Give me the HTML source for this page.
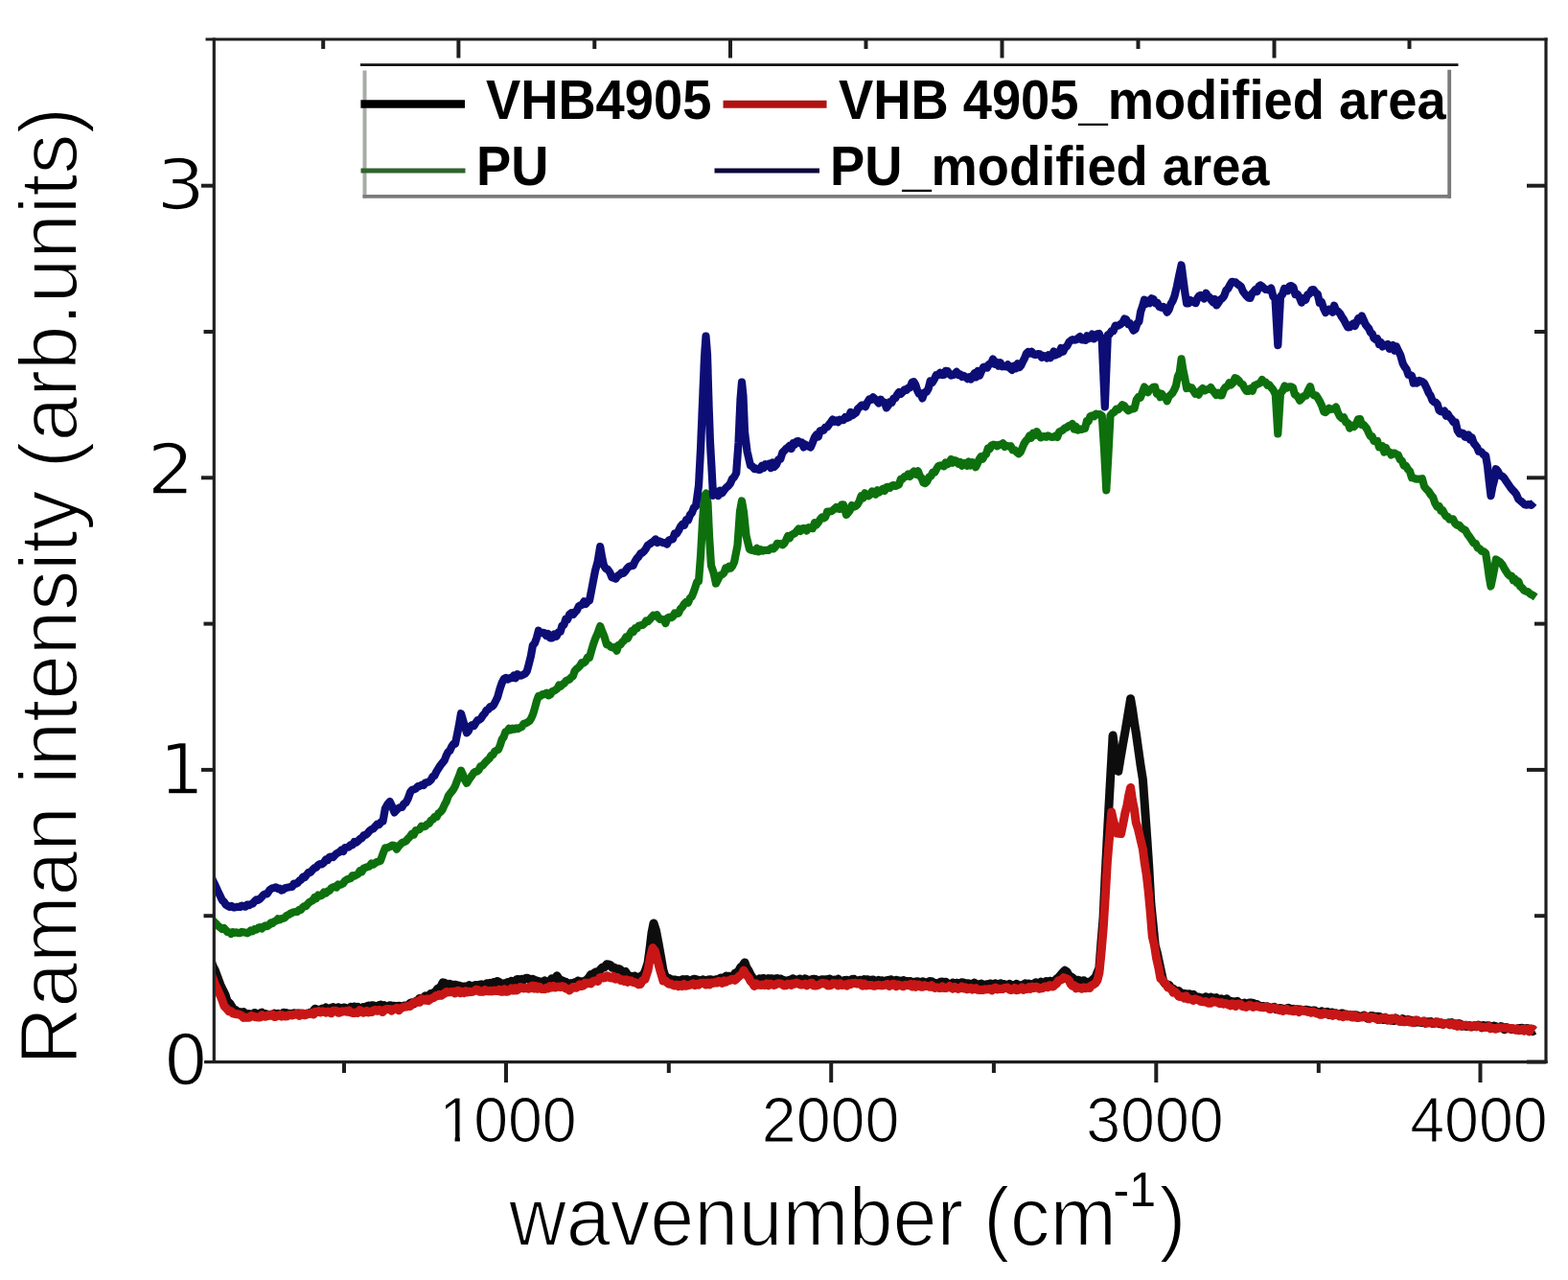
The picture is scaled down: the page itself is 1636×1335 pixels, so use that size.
<!DOCTYPE html>
<html><head><meta charset="utf-8"><style>
html,body{margin:0;padding:0;background:#fff;}
svg{display:block;filter:blur(0.45px);}
text{font-family:"Liberation Sans",sans-serif;fill:#000;}
.dv{font-family:"DejaVu Sans","Liberation Sans",sans-serif;}
.thin{stroke:#fff;stroke-width:1.8px;stroke-linejoin:round;}
.thin2{stroke:#fff;stroke-width:1.6px;stroke-linejoin:round;}
.thin3{stroke:#fff;stroke-width:1.2px;stroke-linejoin:round;}
</style></head><body>
<svg width="1636" height="1335" viewBox="0 0 1636 1335">
<rect width="1636" height="1335" fill="#fff"/>
<defs><clipPath id="pc"><rect x="224.6" y="42" width="1387" height="1064"/></clipPath><filter id="bl" x="-0.05" y="-0.05" width="1.1" height="1.1"><feGaussianBlur stdDeviation="0.7"/></filter></defs>
<g clip-path="url(#pc)"><g id="curves" filter="url(#bl)">
<path d="M220.0 1001.7 L222.2 1007.9 L224.5 1012.6 L227.0 1019.3 L230.0 1027.4 L233.0 1033.7 L235.0 1037.5 L237.0 1044.0 L239.5 1046.3 L242.0 1050.2 L244.0 1053.8 L246.0 1053.6 L248.0 1056.0 L250.0 1055.4 L252.0 1056.4 L254.0 1055.5 L256.0 1057.4 L258.0 1058.3 L260.0 1057.5 L262.0 1058.4 L263.9 1058.2 L265.7 1056.4 L267.6 1058.4 L269.5 1057.9 L271.3 1057.0 L273.2 1056.2 L275.1 1058.7 L276.9 1057.5 L278.8 1058.2 L280.7 1058.7 L282.5 1058.2 L284.4 1058.8 L286.3 1057.2 L288.1 1058.4 L290.0 1057.3 L291.9 1058.8 L293.7 1058.6 L295.6 1056.3 L297.5 1056.4 L299.3 1056.6 L301.2 1058.8 L303.1 1057.2 L304.9 1057.8 L306.8 1056.8 L308.7 1057.4 L310.5 1057.0 L312.4 1056.9 L314.3 1057.6 L316.1 1057.6 L318.0 1058.5 L319.8 1057.2 L321.6 1057.2 L323.4 1056.3 L325.2 1056.1 L327.1 1054.4 L328.9 1052.2 L330.7 1053.7 L332.5 1053.3 L334.4 1053.1 L336.2 1052.1 L338.1 1052.5 L340.0 1051.0 L341.9 1052.9 L343.7 1052.1 L345.6 1051.3 L347.5 1050.6 L349.4 1053.0 L351.2 1053.4 L353.1 1050.7 L355.0 1052.8 L356.9 1051.6 L358.7 1050.9 L360.6 1051.3 L362.4 1052.6 L364.3 1052.8 L366.1 1050.2 L367.9 1051.8 L369.8 1049.9 L371.6 1051.8 L373.4 1050.5 L375.3 1052.1 L377.1 1052.2 L378.9 1050.7 L380.8 1052.1 L382.6 1049.9 L384.5 1049.0 L386.3 1050.5 L388.1 1048.7 L390.0 1049.0 L391.8 1049.6 L393.6 1050.0 L395.5 1048.6 L397.3 1048.1 L399.1 1050.4 L401.0 1048.7 L402.8 1050.5 L404.7 1050.3 L406.6 1048.7 L408.5 1049.0 L410.4 1049.2 L412.3 1049.5 L414.3 1049.4 L416.2 1049.3 L418.1 1049.5 L420.0 1050.4 L421.9 1049.1 L423.8 1048.9 L425.8 1048.8 L427.9 1046.5 L429.9 1045.7 L431.9 1046.8 L433.9 1044.5 L435.9 1043.7 L438.0 1041.2 L440.0 1041.4 L441.8 1041.2 L443.7 1038.8 L445.5 1039.8 L447.3 1039.2 L449.2 1036.7 L451.0 1037.7 L452.8 1035.4 L454.7 1034.2 L456.5 1031.4 L458.3 1030.6 L460.2 1028.8 L462.0 1024.9 L463.8 1025.2 L465.7 1027.2 L467.5 1028.2 L469.3 1026.3 L471.2 1027.1 L473.0 1027.7 L474.8 1027.2 L476.7 1027.7 L478.5 1027.9 L480.3 1028.5 L482.2 1029.5 L484.0 1029.0 L485.8 1029.0 L487.7 1030.1 L489.5 1027.6 L491.3 1029.1 L493.2 1029.4 L495.0 1027.9 L496.8 1027.5 L498.7 1029.0 L500.5 1027.2 L502.3 1026.8 L504.2 1027.4 L506.0 1028.0 L507.8 1025.7 L509.7 1025.8 L511.5 1025.3 L513.3 1026.2 L515.2 1024.5 L517.0 1025.2 L518.8 1023.5 L520.7 1024.3 L522.5 1025.7 L524.3 1026.7 L526.2 1025.8 L528.0 1025.5 L529.8 1024.6 L531.7 1025.2 L533.5 1023.5 L535.3 1024.8 L537.2 1024.3 L539.0 1021.7 L540.8 1021.4 L542.7 1022.3 L544.5 1021.2 L546.3 1021.9 L548.2 1020.7 L550.0 1020.2 L551.8 1020.9 L553.7 1022.6 L555.5 1021.2 L557.3 1022.0 L559.2 1022.8 L561.0 1023.3 L562.8 1023.8 L564.7 1025.9 L566.5 1024.2 L568.3 1022.9 L570.1 1024.9 L571.9 1023.9 L573.8 1023.4 L575.6 1020.9 L577.4 1021.6 L579.2 1020.7 L581.0 1017.8 L582.9 1020.6 L584.7 1022.1 L586.6 1022.9 L588.4 1023.7 L590.3 1024.3 L592.1 1025.7 L594.0 1026.6 L595.8 1025.5 L597.7 1026.4 L599.5 1024.9 L601.3 1025.9 L603.2 1023.0 L605.0 1024.9 L606.8 1023.7 L608.7 1023.8 L610.5 1023.1 L612.5 1021.8 L614.5 1019.6 L616.5 1016.6 L618.4 1017.6 L620.4 1014.6 L622.4 1013.7 L624.4 1013.5 L626.5 1011.2 L628.7 1009.0 L630.9 1008.7 L633.0 1005.8 L635.0 1005.9 L636.9 1006.6 L638.9 1009.3 L640.8 1009.0 L642.8 1010.8 L644.8 1010.5 L646.7 1010.9 L648.7 1012.8 L650.6 1014.6 L652.6 1013.5 L654.5 1016.4 L656.4 1017.8 L658.3 1018.4 L660.3 1019.5 L662.2 1018.0 L664.1 1020.9 L666.0 1022.6 L668.0 1018.5 L670.0 1017.5 L672.0 1015.8 L674.0 1010.6 L676.0 1004.3 L678.0 989.9 L680.0 972.8 L682.0 963.0 L684.5 970.7 L687.0 983.9 L689.5 997.9 L692.0 1012.2 L694.0 1018.4 L696.0 1021.6 L698.0 1020.3 L700.0 1022.5 L701.8 1021.9 L703.7 1021.9 L705.5 1022.1 L707.3 1022.9 L709.2 1022.8 L711.0 1022.1 L712.8 1021.6 L714.7 1022.0 L716.5 1021.4 L718.3 1022.7 L720.2 1023.1 L722.0 1022.1 L723.9 1021.2 L725.8 1021.5 L727.7 1022.0 L729.6 1022.7 L731.5 1023.2 L733.4 1021.9 L735.3 1023.1 L737.2 1022.6 L739.1 1021.9 L741.0 1021.7 L742.9 1022.1 L744.8 1022.6 L746.7 1021.8 L748.5 1022.1 L750.4 1021.0 L752.2 1019.9 L754.0 1020.3 L755.9 1020.3 L757.7 1018.0 L759.5 1018.6 L761.3 1018.2 L763.2 1019.1 L765.0 1018.8 L767.0 1015.0 L769.0 1014.5 L771.0 1012.1 L773.0 1008.5 L775.0 1007.0 L777.0 1003.9 L779.0 1009.3 L781.0 1012.3 L783.0 1016.4 L785.0 1019.5 L787.0 1022.5 L788.8 1022.7 L790.7 1022.2 L792.5 1020.8 L794.3 1022.3 L796.2 1020.5 L798.0 1020.9 L799.8 1022.8 L801.7 1020.6 L803.5 1020.8 L805.3 1020.8 L807.2 1023.1 L809.0 1021.0 L810.8 1020.6 L812.7 1023.0 L814.5 1020.9 L816.3 1023.0 L818.2 1022.5 L820.0 1023.0 L821.8 1023.4 L823.6 1022.3 L825.5 1022.9 L827.3 1020.7 L829.1 1022.9 L830.9 1022.1 L832.7 1022.7 L834.5 1020.9 L836.4 1022.8 L838.2 1023.4 L840.0 1020.8 L841.8 1021.6 L843.6 1022.3 L845.5 1023.1 L847.3 1021.4 L849.1 1021.2 L850.9 1021.4 L852.7 1022.6 L854.5 1023.0 L856.4 1021.9 L858.2 1021.8 L860.0 1021.9 L861.8 1021.8 L863.6 1022.0 L865.5 1021.0 L867.3 1022.3 L869.1 1023.7 L870.9 1022.1 L872.7 1023.1 L874.5 1021.3 L876.4 1022.9 L878.2 1023.1 L880.0 1022.9 L881.8 1022.4 L883.6 1022.3 L885.5 1022.8 L887.3 1023.6 L889.1 1021.4 L890.9 1021.2 L892.7 1023.2 L894.5 1023.7 L896.4 1022.5 L898.2 1022.3 L900.0 1023.2 L901.8 1021.6 L903.7 1021.9 L905.5 1021.7 L907.4 1022.9 L909.2 1022.2 L911.1 1022.0 L912.9 1023.4 L914.8 1024.2 L916.6 1022.3 L918.5 1023.5 L920.3 1022.7 L922.2 1024.1 L924.0 1023.3 L925.9 1022.4 L927.7 1022.3 L929.6 1021.7 L931.4 1023.2 L933.3 1022.9 L935.1 1022.3 L937.0 1022.9 L938.8 1022.9 L940.7 1024.3 L942.5 1022.4 L944.4 1025.0 L946.2 1023.5 L948.1 1023.9 L949.9 1023.5 L951.8 1024.7 L953.6 1024.7 L955.5 1023.9 L957.3 1023.8 L959.2 1024.5 L961.0 1025.0 L962.8 1023.7 L964.7 1024.8 L966.5 1025.6 L968.4 1024.2 L970.2 1023.6 L972.1 1023.7 L973.9 1025.2 L975.8 1025.2 L977.6 1026.1 L979.5 1025.9 L981.3 1024.2 L983.2 1024.1 L985.0 1024.4 L986.9 1024.3 L988.7 1025.9 L990.6 1026.5 L992.4 1026.7 L994.3 1024.9 L996.1 1026.8 L998.0 1025.2 L999.8 1025.6 L1001.7 1026.7 L1003.5 1024.8 L1005.4 1024.9 L1007.2 1027.3 L1009.1 1025.7 L1010.9 1026.0 L1012.8 1026.8 L1014.6 1027.2 L1016.5 1025.2 L1018.3 1026.3 L1020.2 1026.7 L1022.0 1027.0 L1023.8 1026.1 L1025.7 1027.3 L1027.5 1028.4 L1029.4 1026.7 L1031.2 1027.1 L1033.0 1025.9 L1034.9 1026.3 L1036.7 1027.5 L1038.6 1025.8 L1040.4 1028.2 L1042.2 1028.2 L1044.1 1025.8 L1045.9 1028.3 L1047.8 1026.6 L1049.6 1027.8 L1051.4 1027.8 L1053.3 1026.4 L1055.1 1027.5 L1057.0 1027.5 L1058.8 1027.9 L1060.6 1026.3 L1062.5 1027.8 L1064.3 1028.4 L1066.2 1027.5 L1068.0 1027.1 L1069.8 1025.7 L1071.6 1026.6 L1073.5 1026.0 L1075.3 1026.9 L1077.1 1026.6 L1078.9 1026.1 L1080.8 1024.8 L1082.6 1026.0 L1084.4 1025.8 L1086.2 1024.2 L1088.1 1026.2 L1089.9 1025.3 L1091.7 1023.5 L1093.5 1025.7 L1095.4 1023.2 L1097.2 1023.6 L1099.0 1024.6 L1101.0 1022.4 L1103.0 1020.5 L1105.0 1019.0 L1107.0 1016.6 L1109.0 1014.4 L1111.0 1012.2 L1113.0 1013.5 L1114.9 1016.9 L1116.8 1018.6 L1118.8 1019.5 L1120.8 1021.7 L1122.7 1022.1 L1124.7 1022.2 L1126.8 1023.0 L1128.8 1024.9 L1130.8 1022.8 L1132.8 1024.7 L1134.9 1024.3 L1136.9 1026.3 L1138.9 1023.1 L1141.0 1021.0 L1143.0 1019.2 L1145.0 1014.3 L1146.9 1009.6 L1149.0 982.0 L1151.1 957.0 L1153.2 912.2 L1155.4 870.0 L1158.2 818.3 L1161.1 767.1 L1163.0 781.5 L1164.9 793.6 L1166.8 804.4 L1169.2 790.1 L1171.5 776.6 L1173.9 763.3 L1175.8 752.1 L1177.7 740.5 L1179.6 728.7 L1181.5 739.7 L1183.4 752.8 L1185.3 764.5 L1187.7 781.6 L1190.0 797.9 L1192.4 812.9 L1194.5 841.5 L1196.6 871.5 L1198.8 904.8 L1200.9 942.7 L1203.1 964.3 L1205.2 985.8 L1207.3 993.8 L1209.5 1003.9 L1211.6 1013.6 L1213.7 1023.4 L1215.7 1026.1 L1217.8 1026.8 L1219.8 1027.3 L1221.8 1030.6 L1223.8 1031.1 L1225.9 1033.1 L1227.9 1035.1 L1229.8 1033.4 L1231.7 1036.2 L1233.6 1036.3 L1235.5 1036.3 L1237.4 1036.8 L1239.3 1037.1 L1241.2 1036.8 L1243.1 1038.3 L1245.0 1037.3 L1246.9 1039.2 L1248.8 1040.1 L1250.7 1039.9 L1252.5 1040.5 L1254.4 1041.8 L1256.2 1041.8 L1258.0 1039.7 L1259.9 1041.9 L1261.7 1041.5 L1263.5 1040.0 L1265.3 1041.1 L1267.2 1040.9 L1269.0 1040.6 L1270.8 1042.1 L1272.7 1043.5 L1274.5 1041.8 L1276.3 1043.7 L1278.2 1043.3 L1280.0 1041.8 L1281.8 1044.3 L1283.7 1043.9 L1285.5 1045.2 L1287.4 1044.8 L1289.2 1045.2 L1291.0 1044.4 L1292.9 1046.1 L1294.7 1046.8 L1296.6 1046.9 L1298.4 1046.0 L1300.2 1047.2 L1302.1 1046.7 L1303.9 1045.9 L1305.8 1046.1 L1307.6 1046.5 L1309.4 1047.2 L1311.3 1047.4 L1313.1 1048.7 L1315.0 1049.7 L1316.8 1049.5 L1318.6 1049.5 L1320.5 1050.5 L1322.3 1049.8 L1324.2 1050.6 L1326.0 1051.8 L1327.8 1050.9 L1329.7 1050.4 L1331.5 1052.7 L1333.3 1052.4 L1335.2 1051.5 L1337.0 1051.7 L1338.8 1052.4 L1340.7 1052.7 L1342.5 1051.8 L1344.3 1051.3 L1346.2 1052.1 L1348.0 1054.0 L1349.8 1052.3 L1351.7 1053.4 L1353.5 1052.8 L1355.3 1053.0 L1357.2 1053.1 L1359.0 1054.0 L1360.8 1053.4 L1362.7 1053.2 L1364.5 1053.6 L1366.3 1054.0 L1368.2 1055.1 L1370.0 1054.0 L1371.8 1054.1 L1373.7 1055.5 L1375.5 1055.6 L1377.3 1056.7 L1379.2 1054.9 L1381.0 1056.1 L1382.8 1056.3 L1384.7 1055.4 L1386.5 1058.4 L1388.3 1056.3 L1390.2 1056.1 L1392.0 1057.4 L1393.8 1056.7 L1395.7 1058.2 L1397.5 1057.5 L1399.3 1057.0 L1401.2 1057.0 L1403.0 1059.2 L1404.8 1058.0 L1406.7 1059.7 L1408.5 1058.9 L1410.3 1060.5 L1412.2 1058.7 L1414.0 1058.7 L1415.8 1059.0 L1417.7 1060.8 L1419.5 1060.4 L1421.3 1059.7 L1423.2 1059.1 L1425.0 1061.0 L1426.8 1062.1 L1428.7 1061.1 L1430.5 1059.5 L1432.3 1059.8 L1434.2 1060.1 L1436.0 1060.5 L1437.8 1060.3 L1439.7 1060.5 L1441.5 1062.5 L1443.3 1063.4 L1445.2 1061.4 L1447.0 1063.9 L1448.8 1062.6 L1450.7 1063.7 L1452.5 1064.3 L1454.3 1064.5 L1456.2 1061.9 L1458.0 1062.9 L1459.8 1064.0 L1461.7 1065.1 L1463.5 1062.7 L1465.3 1063.5 L1467.2 1065.3 L1469.0 1063.3 L1470.8 1064.2 L1472.7 1064.2 L1474.5 1065.4 L1476.3 1066.3 L1478.2 1064.2 L1480.0 1066.1 L1481.8 1066.2 L1483.7 1066.6 L1485.5 1066.0 L1487.3 1067.2 L1489.2 1065.7 L1491.0 1066.0 L1492.8 1065.6 L1494.7 1067.4 L1496.5 1066.7 L1498.3 1066.2 L1500.2 1066.0 L1502.0 1067.8 L1503.8 1067.6 L1505.7 1068.1 L1507.5 1067.3 L1509.3 1067.7 L1511.2 1066.9 L1513.0 1068.7 L1514.8 1066.8 L1516.7 1068.3 L1518.5 1069.3 L1520.3 1069.2 L1522.2 1067.6 L1524.0 1068.2 L1525.8 1070.2 L1527.7 1069.7 L1529.5 1070.5 L1531.3 1070.6 L1533.2 1069.5 L1535.0 1071.0 L1536.8 1070.6 L1538.7 1069.5 L1540.5 1069.8 L1542.3 1069.0 L1544.2 1070.1 L1546.0 1071.9 L1547.8 1069.5 L1549.7 1071.0 L1551.5 1069.8 L1553.3 1069.8 L1555.2 1071.7 L1557.0 1070.6 L1558.8 1070.1 L1560.7 1070.6 L1562.5 1072.2 L1564.3 1072.1 L1566.2 1070.5 L1568.0 1071.3 L1569.8 1073.7 L1571.7 1071.6 L1573.5 1072.7 L1575.3 1072.4 L1577.2 1073.6 L1579.0 1073.2 L1580.8 1073.9 L1582.7 1073.3 L1584.5 1072.4 L1586.3 1072.5 L1588.2 1072.3 L1590.0 1074.7 L1591.8 1072.7 L1593.7 1072.5 L1595.5 1075.5 L1597.3 1073.3 L1599.2 1075.5 L1601.0 1074.5" stroke="#0a0a0a" stroke-width="9" fill="none" stroke-linejoin="round"/>
<path d="M220.0 1015.7 L222.2 1020.6 L224.5 1026.7 L227.0 1032.0 L230.0 1038.7 L232.0 1043.7 L234.0 1049.3 L236.5 1051.9 L239.0 1054.8 L241.0 1054.5 L243.0 1056.8 L245.0 1057.3 L247.3 1057.7 L249.7 1058.2 L252.0 1059.1 L254.0 1061.4 L256.0 1061.1 L258.0 1061.2 L260.0 1061.2 L262.0 1059.5 L263.9 1059.7 L265.7 1060.6 L267.6 1060.8 L269.5 1061.1 L271.3 1061.1 L273.2 1058.6 L275.1 1060.1 L276.9 1060.2 L278.8 1059.6 L280.7 1058.5 L282.5 1059.3 L284.4 1058.0 L286.3 1060.5 L288.1 1060.2 L290.0 1059.1 L291.9 1058.4 L293.7 1060.1 L295.6 1059.1 L297.5 1060.0 L299.3 1059.8 L301.2 1058.7 L303.1 1058.4 L304.9 1058.9 L306.8 1058.4 L308.7 1057.5 L310.5 1057.9 L312.4 1059.4 L314.3 1057.0 L316.1 1057.0 L318.0 1058.7 L319.8 1057.3 L321.6 1057.7 L323.4 1057.2 L325.2 1056.4 L327.1 1058.0 L328.9 1055.3 L330.7 1055.6 L332.5 1054.6 L334.4 1055.9 L336.2 1054.8 L338.1 1055.1 L340.0 1056.2 L341.9 1055.0 L343.7 1055.7 L345.6 1056.7 L347.5 1054.3 L349.4 1054.2 L351.2 1054.7 L353.1 1056.3 L355.0 1055.8 L356.9 1054.7 L358.7 1055.0 L360.6 1054.5 L362.4 1055.3 L364.3 1054.0 L366.1 1055.9 L367.9 1056.4 L369.8 1056.5 L371.6 1055.8 L373.4 1056.4 L375.3 1053.5 L377.1 1054.3 L378.9 1056.2 L380.8 1055.6 L382.6 1054.4 L384.5 1056.0 L386.3 1054.9 L388.1 1055.5 L390.0 1053.8 L391.8 1053.5 L393.6 1054.2 L395.5 1053.2 L397.3 1053.8 L399.1 1055.5 L401.0 1053.6 L402.8 1052.5 L404.7 1052.4 L406.6 1052.5 L408.5 1054.1 L410.4 1052.6 L412.3 1052.1 L414.3 1051.3 L416.2 1053.7 L418.1 1051.7 L420.0 1050.8 L421.9 1050.1 L423.8 1049.9 L425.8 1049.2 L427.9 1049.6 L429.9 1047.0 L431.9 1045.6 L433.9 1045.9 L435.9 1044.1 L438.0 1045.3 L440.0 1041.7 L441.8 1042.7 L443.7 1043.3 L445.5 1042.0 L447.3 1043.5 L449.2 1041.8 L451.0 1040.9 L452.8 1040.5 L454.7 1038.5 L456.5 1038.7 L458.3 1037.3 L460.2 1038.3 L462.0 1037.2 L463.8 1036.0 L465.7 1034.4 L467.5 1034.9 L469.3 1034.7 L471.2 1034.4 L473.0 1034.3 L474.8 1036.0 L476.7 1033.7 L478.5 1033.2 L480.3 1035.7 L482.2 1034.4 L484.0 1035.5 L485.8 1033.6 L487.7 1035.0 L489.5 1034.2 L491.3 1034.5 L493.2 1034.3 L495.0 1033.4 L496.8 1032.1 L498.7 1032.4 L500.5 1034.3 L502.3 1034.3 L504.2 1034.3 L506.0 1032.4 L507.8 1033.4 L509.7 1033.8 L511.5 1033.3 L513.3 1033.8 L515.2 1033.0 L517.0 1033.4 L518.8 1033.5 L520.7 1032.2 L522.5 1034.2 L524.3 1034.3 L526.2 1031.6 L528.0 1034.3 L529.8 1034.0 L531.7 1032.9 L533.5 1030.8 L535.3 1033.1 L537.2 1030.6 L539.0 1032.8 L540.8 1031.7 L542.7 1029.6 L544.5 1029.7 L546.3 1030.9 L548.2 1030.5 L550.0 1030.9 L551.8 1031.2 L553.7 1028.9 L555.5 1028.1 L557.3 1031.1 L559.2 1028.5 L561.0 1031.3 L562.8 1029.2 L564.7 1031.4 L566.5 1031.5 L568.3 1031.6 L570.1 1030.3 L571.9 1031.0 L573.8 1028.7 L575.6 1029.8 L577.4 1028.5 L579.2 1030.0 L581.0 1029.3 L582.9 1028.9 L584.7 1029.5 L586.6 1028.5 L588.4 1029.0 L590.3 1031.1 L592.1 1031.3 L594.0 1032.9 L595.8 1031.5 L597.7 1029.5 L599.5 1029.6 L601.3 1030.2 L603.2 1028.8 L605.0 1026.7 L606.8 1028.5 L608.7 1027.9 L610.5 1025.1 L612.5 1026.0 L614.4 1025.1 L616.3 1025.9 L618.3 1024.0 L620.1 1023.0 L622.0 1022.9 L623.8 1023.4 L625.6 1020.0 L627.5 1019.2 L629.3 1019.9 L631.2 1019.8 L633.0 1017.8 L634.8 1018.1 L636.7 1019.8 L638.5 1020.0 L640.3 1018.3 L642.2 1021.2 L644.0 1019.6 L645.8 1020.4 L647.7 1022.5 L649.5 1021.7 L651.3 1023.3 L653.2 1021.8 L655.0 1024.4 L656.9 1022.7 L658.7 1023.0 L660.6 1024.4 L662.4 1024.4 L664.3 1025.4 L666.1 1026.8 L668.0 1026.6 L670.5 1022.5 L673.0 1021.4 L676.0 1012.1 L678.5 998.0 L681.0 988.6 L683.5 992.0 L686.0 1001.7 L688.5 1011.2 L692.0 1023.0 L694.0 1022.5 L696.0 1024.7 L698.0 1026.3 L700.0 1026.1 L702.0 1027.2 L704.0 1027.9 L705.9 1027.0 L707.8 1028.7 L709.7 1027.3 L711.6 1028.5 L713.5 1026.6 L715.4 1028.3 L717.3 1027.9 L719.2 1027.3 L721.2 1026.8 L723.1 1025.8 L725.0 1027.6 L726.9 1026.3 L728.8 1027.1 L730.7 1025.4 L732.6 1025.2 L734.5 1025.3 L736.4 1027.1 L738.3 1025.0 L740.2 1026.9 L742.1 1025.1 L744.0 1025.5 L745.9 1024.6 L747.8 1025.1 L749.8 1023.3 L751.7 1024.0 L753.6 1025.4 L755.5 1022.9 L757.4 1024.1 L759.3 1022.9 L761.2 1022.6 L763.1 1021.5 L765.0 1021.3 L766.8 1022.4 L768.7 1020.5 L770.5 1018.8 L772.3 1017.2 L774.2 1016.0 L776.0 1012.0 L777.8 1015.6 L779.7 1017.7 L781.5 1020.2 L783.3 1023.6 L785.2 1025.4 L787.0 1028.4 L788.9 1025.8 L790.7 1027.3 L792.6 1027.3 L794.4 1027.4 L796.3 1026.9 L798.1 1027.5 L800.0 1025.8 L801.8 1027.7 L803.6 1026.1 L805.5 1026.7 L807.3 1027.6 L809.1 1027.0 L810.9 1025.9 L812.7 1025.6 L814.5 1025.9 L816.4 1026.8 L818.2 1027.9 L820.0 1027.7 L821.8 1026.2 L823.6 1026.2 L825.5 1027.4 L827.3 1025.8 L829.1 1026.2 L830.9 1025.0 L832.7 1025.5 L834.5 1026.6 L836.4 1027.1 L838.2 1026.9 L840.0 1026.1 L841.8 1027.9 L843.6 1026.9 L845.5 1025.5 L847.3 1025.2 L849.1 1028.0 L850.9 1028.0 L852.7 1027.8 L854.5 1026.9 L856.4 1026.0 L858.2 1025.3 L860.0 1025.9 L861.8 1025.8 L863.6 1027.9 L865.5 1027.8 L867.3 1027.4 L869.1 1025.6 L870.9 1025.8 L872.7 1026.0 L874.5 1028.0 L876.4 1025.6 L878.2 1027.5 L880.0 1027.2 L881.8 1026.8 L883.6 1028.0 L885.5 1025.9 L887.3 1026.7 L889.1 1025.6 L890.9 1025.5 L892.7 1025.3 L894.5 1026.1 L896.4 1025.6 L898.2 1025.4 L900.0 1028.2 L901.8 1026.1 L903.7 1028.0 L905.5 1027.4 L907.4 1027.6 L909.2 1027.4 L911.1 1028.3 L912.9 1028.2 L914.8 1027.7 L916.6 1027.3 L918.5 1027.7 L920.3 1027.9 L922.2 1027.4 L924.0 1027.3 L925.9 1026.3 L927.7 1028.4 L929.6 1027.4 L931.4 1026.2 L933.3 1026.5 L935.1 1028.7 L937.0 1026.9 L938.8 1027.3 L940.7 1028.2 L942.5 1028.8 L944.4 1027.3 L946.2 1027.5 L948.1 1027.7 L949.9 1026.5 L951.8 1029.1 L953.6 1026.6 L955.5 1029.4 L957.3 1027.1 L959.2 1027.1 L961.0 1029.2 L962.8 1029.3 L964.7 1027.6 L966.5 1028.6 L968.4 1028.5 L970.2 1029.3 L972.1 1027.8 L973.9 1029.8 L975.8 1030.4 L977.6 1029.7 L979.5 1030.4 L981.3 1030.5 L983.2 1029.0 L985.0 1030.5 L986.9 1030.5 L988.7 1029.9 L990.6 1028.5 L992.4 1030.2 L994.3 1031.1 L996.1 1029.4 L998.0 1030.5 L999.8 1031.4 L1001.7 1030.6 L1003.5 1029.0 L1005.4 1030.9 L1007.2 1029.8 L1009.1 1031.7 L1010.9 1031.2 L1012.8 1030.3 L1014.6 1032.1 L1016.5 1031.4 L1018.3 1030.6 L1020.2 1032.2 L1022.0 1032.5 L1023.8 1032.5 L1025.7 1032.4 L1027.5 1031.8 L1029.4 1031.9 L1031.2 1031.6 L1033.0 1031.4 L1034.9 1032.8 L1036.7 1030.9 L1038.6 1030.0 L1040.4 1031.9 L1042.2 1031.3 L1044.1 1031.4 L1045.9 1031.6 L1047.8 1030.5 L1049.6 1030.4 L1051.4 1030.0 L1053.3 1032.1 L1055.1 1032.5 L1057.0 1031.9 L1058.8 1030.2 L1060.6 1032.7 L1062.5 1032.3 L1064.3 1031.3 L1066.2 1029.8 L1068.0 1032.3 L1069.8 1031.5 L1071.6 1031.4 L1073.4 1029.4 L1075.2 1031.4 L1077.1 1029.2 L1078.9 1030.4 L1080.7 1029.2 L1082.5 1029.7 L1084.3 1031.2 L1086.1 1030.6 L1087.9 1030.7 L1089.8 1029.0 L1091.6 1029.1 L1093.4 1029.6 L1095.2 1027.7 L1097.0 1028.7 L1098.8 1029.0 L1100.7 1026.9 L1102.5 1025.8 L1104.4 1022.7 L1106.2 1022.4 L1108.1 1021.3 L1109.9 1019.6 L1111.7 1020.4 L1113.6 1021.2 L1115.4 1022.3 L1117.2 1026.4 L1119.0 1028.2 L1120.9 1027.8 L1122.7 1030.8 L1124.7 1029.8 L1126.8 1030.5 L1128.8 1031.2 L1130.8 1029.7 L1132.8 1030.7 L1134.9 1029.7 L1136.9 1030.5 L1138.9 1027.6 L1141.0 1026.8 L1143.0 1025.4 L1145.0 1022.1 L1146.9 1014.7 L1149.0 993.8 L1151.1 969.1 L1153.2 936.2 L1155.4 898.1 L1157.6 872.3 L1159.7 847.0 L1161.6 855.9 L1163.4 861.7 L1165.3 869.1 L1167.4 869.3 L1169.6 869.5 L1171.8 858.8 L1173.9 847.8 L1175.8 840.8 L1177.7 829.8 L1179.6 821.5 L1181.5 834.7 L1183.4 843.9 L1185.3 857.9 L1187.7 865.4 L1190.0 875.6 L1192.4 885.4 L1194.3 900.4 L1196.2 912.1 L1198.1 928.6 L1200.2 950.8 L1202.3 976.7 L1204.5 986.0 L1206.6 999.5 L1208.8 1009.2 L1210.9 1020.6 L1212.8 1021.8 L1214.7 1024.4 L1216.6 1026.2 L1218.5 1029.9 L1220.3 1030.5 L1222.2 1031.5 L1224.1 1035.1 L1226.0 1034.4 L1227.9 1036.2 L1229.8 1039.1 L1231.7 1039.6 L1233.6 1039.4 L1235.5 1040.9 L1237.4 1038.7 L1239.3 1041.9 L1241.2 1041.9 L1243.1 1042.3 L1245.0 1043.5 L1246.9 1041.8 L1248.8 1042.7 L1250.7 1043.1 L1252.5 1044.3 L1254.4 1044.7 L1256.2 1044.9 L1258.0 1044.5 L1259.9 1045.8 L1261.7 1046.3 L1263.5 1046.2 L1265.3 1044.3 L1267.2 1044.8 L1269.0 1045.2 L1270.8 1045.4 L1272.7 1046.6 L1274.5 1045.6 L1276.3 1047.1 L1278.2 1046.5 L1280.0 1046.7 L1281.8 1047.9 L1283.7 1048.8 L1285.5 1046.7 L1287.4 1047.4 L1289.2 1049.5 L1291.0 1047.3 L1292.9 1047.0 L1294.7 1047.6 L1296.6 1049.7 L1298.4 1049.6 L1300.2 1050.4 L1302.1 1049.3 L1303.9 1048.1 L1305.8 1049.1 L1307.6 1050.5 L1309.4 1049.7 L1311.3 1049.1 L1313.1 1050.0 L1315.0 1050.5 L1316.8 1050.3 L1318.6 1050.8 L1320.5 1050.1 L1322.3 1049.9 L1324.2 1052.4 L1326.0 1052.4 L1327.8 1051.6 L1329.7 1050.9 L1331.5 1051.6 L1333.3 1052.6 L1335.2 1053.8 L1337.0 1052.7 L1338.8 1054.4 L1340.7 1053.2 L1342.5 1052.4 L1344.3 1053.9 L1346.2 1054.0 L1348.0 1054.2 L1349.8 1054.8 L1351.7 1052.8 L1353.5 1054.3 L1355.3 1055.5 L1357.2 1053.7 L1359.0 1053.6 L1360.8 1054.2 L1362.7 1054.7 L1364.5 1055.4 L1366.3 1055.2 L1368.2 1056.3 L1370.0 1055.1 L1371.8 1055.8 L1373.7 1057.0 L1375.5 1056.8 L1377.3 1058.2 L1379.2 1058.3 L1381.0 1056.5 L1382.8 1056.9 L1384.7 1057.7 L1386.5 1057.9 L1388.3 1057.5 L1390.2 1059.2 L1392.0 1057.4 L1393.8 1058.4 L1395.7 1057.5 L1397.5 1059.9 L1399.3 1059.2 L1401.2 1060.5 L1403.0 1058.1 L1404.8 1060.0 L1406.7 1059.8 L1408.5 1058.3 L1410.3 1060.8 L1412.2 1061.1 L1414.0 1058.9 L1415.8 1061.6 L1417.7 1061.3 L1419.5 1060.9 L1421.3 1060.9 L1423.2 1060.2 L1425.0 1059.7 L1426.8 1061.1 L1428.7 1062.5 L1430.5 1060.6 L1432.3 1061.6 L1434.2 1061.2 L1436.0 1062.5 L1437.8 1063.5 L1439.7 1063.4 L1441.5 1061.8 L1443.3 1062.3 L1445.2 1061.2 L1447.0 1063.0 L1448.8 1064.1 L1450.7 1064.2 L1452.5 1062.1 L1454.3 1063.3 L1456.2 1062.4 L1458.0 1063.6 L1459.8 1065.2 L1461.7 1063.5 L1463.5 1065.3 L1465.3 1065.8 L1467.2 1065.5 L1469.0 1063.8 L1470.8 1066.1 L1472.7 1066.3 L1474.5 1066.7 L1476.3 1063.9 L1478.2 1064.0 L1480.0 1065.0 L1481.8 1065.8 L1483.7 1065.7 L1485.5 1064.9 L1487.3 1066.7 L1489.2 1066.9 L1491.0 1066.9 L1492.8 1066.7 L1494.7 1067.0 L1496.5 1067.6 L1498.3 1065.9 L1500.2 1067.1 L1502.0 1066.4 L1503.8 1066.4 L1505.7 1068.6 L1507.5 1067.4 L1509.3 1067.6 L1511.2 1067.6 L1513.0 1068.6 L1514.8 1067.4 L1516.7 1069.1 L1518.5 1067.6 L1520.3 1070.4 L1522.2 1068.1 L1524.0 1070.1 L1525.8 1069.6 L1527.7 1069.3 L1529.5 1069.1 L1531.3 1069.4 L1533.2 1070.7 L1535.0 1070.2 L1536.8 1070.3 L1538.7 1069.6 L1540.5 1070.9 L1542.3 1069.6 L1544.2 1070.7 L1546.0 1071.3 L1547.8 1071.1 L1549.7 1071.4 L1551.5 1071.5 L1553.3 1070.5 L1555.2 1072.9 L1557.0 1072.2 L1558.8 1072.5 L1560.7 1073.3 L1562.5 1071.9 L1564.3 1071.7 L1566.2 1071.7 L1568.0 1071.9 L1569.8 1072.0 L1571.7 1072.2 L1573.5 1072.0 L1575.3 1072.9 L1577.2 1072.5 L1579.0 1072.8 L1580.8 1073.9 L1582.7 1072.9 L1584.5 1074.7 L1586.3 1074.6 L1588.2 1073.4 L1590.0 1075.0 L1591.8 1073.2 L1593.7 1073.1 L1595.5 1075.9 L1597.3 1073.1 L1599.2 1073.2 L1601.0 1074.8" stroke="#c81414" stroke-width="9" fill="none" stroke-linejoin="round"/>
<path d="M220.0 957.8 L222.3 960.3 L224.7 962.6 L227.3 965.5 L230.0 967.6 L231.8 969.0 L233.7 967.9 L235.5 969.9 L237.3 972.0 L239.2 972.3 L241.0 973.9 L242.9 972.1 L244.8 972.9 L246.6 972.4 L248.5 973.1 L250.4 973.2 L252.2 971.9 L254.1 972.4 L256.0 972.5 L257.9 973.3 L259.8 972.4 L261.7 970.4 L263.6 971.3 L265.5 969.2 L267.4 969.7 L269.3 967.9 L271.2 967.1 L273.1 968.5 L275.0 966.3 L276.9 965.3 L278.8 966.1 L280.6 964.9 L282.5 962.5 L284.4 963.1 L286.2 961.1 L288.1 960.4 L290.0 958.3 L291.8 959.3 L293.7 958.0 L295.5 957.9 L297.3 956.9 L299.2 954.8 L301.0 954.2 L302.8 952.9 L304.7 952.1 L306.5 951.2 L308.3 951.0 L310.2 951.0 L312.0 948.8 L313.8 949.0 L315.6 946.7 L317.4 945.2 L319.2 945.1 L321.0 942.8 L322.8 941.0 L324.6 939.9 L326.4 939.1 L328.2 936.0 L330.0 936.9 L332.0 933.5 L334.0 934.4 L336.0 933.6 L338.0 930.5 L340.0 931.5 L342.0 929.5 L343.8 928.9 L345.6 926.4 L347.4 925.4 L349.2 924.7 L351.0 925.6 L352.8 922.5 L354.6 922.9 L356.4 922.3 L358.2 921.2 L360.0 918.6 L361.9 917.4 L363.9 916.7 L365.8 916.1 L367.8 913.2 L369.7 913.7 L371.6 912.6 L373.6 911.6 L375.5 908.2 L377.5 909.2 L379.5 905.5 L381.5 904.8 L383.5 904.1 L385.5 903.5 L387.5 900.6 L389.4 901.7 L391.3 900.2 L393.2 899.0 L395.1 898.6 L397.0 897.7 L399.4 890.8 L401.9 884.4 L404.3 884.1 L406.7 883.2 L409.1 881.6 L411.5 882.1 L413.9 885.6 L415.9 882.7 L417.9 880.7 L419.9 878.6 L421.8 878.1 L423.8 877.1 L425.8 874.5 L427.8 872.6 L429.8 869.7 L431.8 870.5 L433.8 866.1 L435.8 865.7 L437.8 864.9 L439.8 861.6 L441.8 862.2 L443.8 861.7 L445.8 859.5 L447.8 858.8 L449.8 855.5 L451.7 854.6 L453.6 851.8 L455.6 852.0 L457.5 848.4 L459.4 847.0 L461.5 844.5 L463.6 839.8 L465.7 836.0 L467.8 830.2 L470.2 826.8 L472.6 824.0 L475.0 819.7 L477.0 814.1 L479.0 809.5 L481.0 803.6 L483.0 807.9 L485.0 813.4 L487.0 816.8 L488.8 813.8 L490.6 811.4 L492.4 808.9 L494.2 806.1 L496.0 804.8 L497.8 804.6 L499.6 802.9 L501.4 799.2 L503.2 798.7 L505.0 796.7 L506.9 794.6 L508.8 792.6 L510.6 791.1 L512.5 787.8 L514.4 787.1 L516.2 783.8 L518.1 782.6 L520.0 781.7 L521.9 777.0 L523.7 771.1 L525.5 768.9 L527.4 763.3 L529.3 762.5 L531.1 759.9 L533.0 761.3 L534.9 759.7 L536.8 760.7 L538.6 759.4 L540.5 760.1 L542.4 758.9 L544.4 758.0 L546.4 754.8 L548.4 754.4 L550.4 753.3 L552.4 752.1 L554.4 748.8 L556.3 744.3 L558.1 738.1 L560.0 731.1 L561.9 725.9 L564.0 725.8 L566.1 724.1 L568.2 724.1 L570.3 722.7 L572.4 725.3 L574.2 724.4 L576.0 721.2 L577.9 720.7 L579.7 719.5 L581.5 718.2 L583.3 714.6 L585.2 715.7 L587.0 713.6 L588.8 712.6 L590.6 710.1 L592.4 709.4 L594.2 708.5 L596.0 706.4 L597.8 705.3 L599.6 699.9 L601.4 697.8 L603.2 696.4 L605.0 694.6 L607.0 691.2 L609.0 691.6 L611.0 689.7 L613.0 685.7 L615.0 685.9 L617.0 678.9 L619.0 672.1 L621.0 666.4 L623.6 660.4 L626.2 653.0 L628.5 659.1 L630.7 664.4 L633.0 672.3 L635.1 672.8 L637.2 674.7 L639.3 675.5 L641.4 675.0 L643.5 678.7 L645.4 672.8 L647.4 672.3 L649.3 669.6 L651.2 668.0 L653.1 664.6 L655.1 665.6 L657.0 661.5 L658.9 658.3 L660.9 659.1 L662.8 655.1 L664.7 655.3 L666.6 652.7 L668.6 652.1 L670.5 652.0 L672.4 650.3 L674.2 647.4 L676.1 648.0 L678.0 646.1 L679.8 643.8 L681.7 641.7 L683.5 642.5 L685.4 641.3 L687.2 644.5 L689.0 646.0 L690.8 645.9 L692.6 646.3 L694.4 650.1 L696.3 644.7 L698.3 643.7 L700.2 644.2 L702.1 643.0 L704.0 639.4 L706.0 640.1 L707.9 639.7 L709.9 635.2 L711.9 633.2 L713.9 630.0 L715.9 628.0 L717.9 628.8 L719.9 623.9 L721.7 622.4 L723.5 618.1 L725.4 612.6 L727.2 607.0 L729.0 606.2 L731.0 580.0 L733.0 544.6 L735.0 517.1 L736.8 514.6 L738.5 525.0 L740.0 558.9 L742.0 589.9 L744.5 597.2 L747.0 608.6 L749.2 604.3 L751.3 600.2 L753.5 599.1 L755.3 597.8 L757.1 592.5 L758.9 593.5 L760.7 590.7 L762.5 592.4 L764.3 590.1 L766.1 586.1 L769.5 568.9 L772.0 533.2 L774.0 522.5 L776.0 533.9 L778.5 558.5 L782.0 572.9 L784.0 573.9 L785.9 573.9 L787.9 574.8 L789.8 571.9 L791.8 575.3 L793.7 573.2 L795.7 574.6 L797.6 573.8 L799.6 573.8 L801.5 574.0 L803.3 572.8 L805.2 571.3 L807.1 572.3 L808.9 570.6 L810.8 566.9 L812.7 567.1 L814.5 567.1 L816.4 568.4 L818.3 566.7 L820.1 563.4 L822.0 559.1 L823.9 561.2 L825.7 557.9 L827.6 557.0 L829.5 556.0 L831.3 554.0 L833.2 551.6 L835.3 553.8 L837.4 551.1 L839.5 551.2 L841.6 553.5 L843.7 550.2 L845.8 550.7 L847.9 551.2 L850.0 545.1 L851.9 547.3 L853.8 544.9 L855.6 541.9 L857.5 539.5 L859.4 540.3 L861.2 539.3 L863.1 533.7 L865.0 533.7 L866.9 533.3 L868.8 532.3 L870.6 530.7 L872.5 529.0 L874.4 530.5 L876.2 530.9 L878.1 526.3 L880.0 526.4 L883.0 536.9 L884.9 534.8 L886.9 532.2 L888.8 527.0 L890.8 528.7 L892.7 528.0 L894.6 526.2 L896.6 522.7 L898.5 517.3 L900.5 519.5 L902.4 514.3 L904.3 516.2 L906.1 517.4 L908.0 515.8 L909.9 512.4 L911.8 512.8 L913.6 515.7 L915.5 511.3 L917.4 513.4 L919.3 511.8 L921.1 509.9 L923.0 511.8 L924.9 508.1 L926.8 507.9 L928.6 508.8 L930.5 506.6 L932.4 506.0 L934.3 507.0 L936.1 506.2 L938.0 505.3 L939.9 499.6 L941.8 499.5 L943.6 497.2 L945.5 497.0 L947.4 494.7 L949.5 496.9 L951.6 493.5 L953.7 491.5 L955.8 494.7 L957.9 491.4 L959.8 496.6 L961.6 498.6 L963.5 503.4 L965.4 504.1 L967.4 501.9 L969.4 497.5 L971.3 496.6 L973.3 492.5 L975.3 492.7 L977.3 488.9 L979.2 485.9 L981.0 485.5 L982.9 485.3 L984.8 486.3 L986.7 482.4 L988.5 484.3 L990.4 483.1 L992.3 479.0 L994.2 482.7 L996.1 480.1 L998.1 480.8 L1000.0 483.8 L1001.8 482.0 L1003.6 485.7 L1005.4 483.6 L1007.2 482.9 L1009.0 485.7 L1010.8 481.6 L1012.6 485.6 L1014.4 482.1 L1016.2 482.7 L1018.0 487.3 L1019.8 483.6 L1021.7 479.0 L1023.5 476.2 L1025.3 478.7 L1027.2 474.9 L1029.0 473.6 L1030.8 467.6 L1032.7 468.2 L1034.5 464.5 L1036.5 463.7 L1038.5 464.0 L1040.5 465.4 L1042.5 463.8 L1044.4 463.8 L1046.4 462.3 L1048.4 466.0 L1050.4 464.8 L1052.4 465.5 L1054.5 465.2 L1056.6 469.4 L1058.7 469.3 L1060.8 471.5 L1062.9 473.2 L1064.8 471.5 L1066.7 467.0 L1068.5 462.7 L1070.4 459.7 L1072.3 458.0 L1074.2 454.5 L1076.0 456.6 L1077.9 451.7 L1079.9 453.9 L1081.8 450.2 L1083.8 453.4 L1085.7 456.4 L1087.7 455.5 L1089.6 455.0 L1091.6 455.8 L1093.5 454.3 L1095.5 455.3 L1097.4 455.9 L1099.4 455.7 L1101.3 454.5 L1103.2 455.9 L1105.2 450.4 L1107.2 449.7 L1109.1 448.4 L1111.1 446.4 L1113.0 445.8 L1115.0 444.1 L1116.9 444.2 L1118.8 442.1 L1120.7 447.6 L1122.6 444.8 L1124.6 448.5 L1126.5 447.5 L1128.4 447.9 L1130.3 447.1 L1132.1 446.9 L1133.9 439.2 L1135.7 439.3 L1137.5 434.2 L1139.3 433.4 L1141.4 434.3 L1143.5 431.7 L1145.6 432.5 L1147.7 432.1 L1149.8 433.8 L1152.0 467.7 L1154.3 511.3 L1156.5 472.6 L1158.5 433.2 L1160.6 430.9 L1162.7 429.7 L1164.7 426.6 L1166.8 427.1 L1168.9 425.0 L1171.0 422.3 L1173.1 423.2 L1175.2 426.3 L1177.3 428.3 L1179.4 427.1 L1181.5 426.4 L1183.6 426.2 L1185.7 417.1 L1187.8 414.0 L1189.8 414.8 L1191.9 409.2 L1194.0 403.6 L1195.8 406.6 L1197.7 409.2 L1199.5 406.4 L1201.4 405.4 L1203.2 403.9 L1205.1 403.7 L1206.9 410.5 L1208.7 409.8 L1210.5 414.3 L1212.3 410.9 L1214.1 413.8 L1215.9 414.5 L1217.7 418.3 L1219.6 413.5 L1221.5 411.8 L1223.3 409.9 L1225.2 406.5 L1227.1 402.1 L1228.9 392.5 L1230.8 388.7 L1232.6 374.4 L1234.4 385.9 L1236.3 394.7 L1238.1 405.0 L1239.9 403.0 L1241.7 405.0 L1243.5 404.5 L1245.3 407.7 L1247.1 410.7 L1248.9 409.4 L1250.7 411.6 L1252.8 407.0 L1254.9 405.1 L1257.0 407.4 L1259.1 406.3 L1261.2 406.0 L1263.3 404.1 L1265.2 407.1 L1267.1 409.3 L1268.9 411.9 L1270.8 409.9 L1272.7 412.3 L1274.7 412.4 L1276.7 406.6 L1278.6 403.8 L1280.6 402.8 L1282.6 399.3 L1284.5 401.3 L1286.5 399.4 L1288.5 394.2 L1290.5 395.1 L1292.5 396.8 L1294.5 399.9 L1296.6 400.9 L1298.6 405.0 L1300.6 407.9 L1302.6 408.0 L1304.6 405.3 L1306.7 407.6 L1308.7 402.1 L1310.7 401.4 L1312.7 400.4 L1314.8 399.3 L1316.8 396.1 L1318.7 398.6 L1320.6 398.6 L1322.4 401.9 L1324.3 401.3 L1326.2 404.0 L1328.5 406.7 L1330.8 411.5 L1333.3 452.4 L1336.0 409.7 L1338.2 407.7 L1340.4 402.5 L1342.7 404.5 L1344.9 403.4 L1347.2 403.4 L1349.0 404.4 L1350.8 411.3 L1352.6 412.3 L1354.4 414.4 L1356.2 417.7 L1358.4 415.4 L1360.5 413.0 L1362.7 412.6 L1364.8 407.4 L1367.0 403.2 L1369.0 410.5 L1371.1 412.3 L1373.1 412.3 L1375.2 415.5 L1377.2 419.1 L1379.3 423.5 L1381.3 429.5 L1383.1 430.0 L1384.9 428.1 L1386.7 425.8 L1388.5 427.0 L1390.3 426.6 L1392.1 426.4 L1393.9 424.6 L1396.0 430.5 L1398.0 434.4 L1400.1 436.4 L1402.1 435.4 L1404.2 440.4 L1406.2 440.9 L1408.3 446.6 L1410.5 443.7 L1412.6 445.0 L1414.8 442.8 L1416.9 437.4 L1419.1 437.1 L1420.9 443.0 L1422.7 442.8 L1424.5 445.0 L1426.3 447.5 L1428.1 451.7 L1429.9 455.1 L1431.7 455.2 L1433.5 460.0 L1435.3 460.3 L1437.1 460.0 L1438.9 466.4 L1440.7 466.6 L1442.5 465.4 L1444.3 471.5 L1446.1 467.1 L1447.9 471.0 L1449.7 471.4 L1451.5 474.5 L1453.3 472.7 L1455.1 472.6 L1456.9 473.9 L1458.7 474.4 L1460.7 479.2 L1462.8 480.8 L1464.8 485.8 L1466.9 485.9 L1468.9 489.3 L1471.0 491.5 L1473.0 498.3 L1475.2 498.6 L1477.3 499.7 L1479.5 499.6 L1481.6 499.5 L1483.8 499.2 L1486.1 507.5 L1488.5 510.4 L1490.8 512.7 L1493.0 516.2 L1495.1 518.7 L1497.3 524.8 L1499.4 528.6 L1501.6 527.9 L1503.4 532.7 L1505.2 532.1 L1507.0 535.7 L1508.8 538.5 L1510.6 539.0 L1512.4 541.7 L1514.2 541.4 L1516.0 541.3 L1518.1 545.7 L1520.3 547.8 L1522.4 547.6 L1524.6 550.4 L1526.7 551.9 L1528.9 553.0 L1531.0 556.9 L1533.2 559.8 L1535.3 562.8 L1537.5 566.4 L1539.6 566.7 L1541.7 571.4 L1543.8 572.3 L1545.9 574.7 L1548.0 575.3 L1550.1 577.0 L1551.9 588.3 L1553.7 601.5 L1555.5 611.5 L1557.3 603.0 L1559.1 593.8 L1560.9 583.5 L1563.0 584.8 L1565.1 586.2 L1567.2 588.6 L1569.3 592.3 L1571.4 595.8 L1573.5 599.0 L1575.3 600.6 L1577.1 600.5 L1578.9 605.2 L1580.7 603.9 L1582.5 607.7 L1584.3 606.5 L1586.1 611.5 L1587.9 612.9 L1590.1 615.6 L1592.2 616.8 L1594.4 617.3 L1596.5 619.4 L1598.7 620.4 L1602.2 622.9" stroke="#107010" stroke-width="8.2" fill="none" stroke-linejoin="round"/>
<path d="M220.0 913.3 L222.3 918.9 L224.7 923.7 L227.3 929.4 L230.0 935.1 L231.9 939.0 L233.8 940.6 L235.6 943.5 L237.5 944.7 L239.4 945.9 L241.3 944.8 L243.2 946.3 L245.1 946.4 L247.0 945.8 L248.8 945.9 L250.6 946.0 L252.4 944.6 L254.2 945.3 L256.0 945.7 L257.9 943.6 L259.9 944.1 L261.8 943.0 L263.7 942.6 L265.6 940.1 L267.4 938.3 L269.3 938.8 L271.2 937.6 L273.1 935.5 L274.9 933.4 L276.8 932.4 L278.7 932.3 L281.4 928.1 L284.0 926.4 L285.9 925.9 L287.8 925.3 L289.8 927.0 L291.7 926.7 L293.6 928.6 L295.5 927.9 L297.4 926.2 L299.2 925.9 L301.1 925.4 L303.0 925.0 L304.9 924.8 L306.7 921.6 L308.6 921.8 L310.5 920.8 L312.4 918.5 L314.2 917.6 L316.1 914.6 L318.0 915.1 L319.9 912.6 L321.9 909.9 L323.9 909.8 L326.0 907.3 L328.0 905.4 L330.0 904.6 L332.0 902.2 L334.0 901.0 L336.0 901.4 L338.0 899.5 L340.0 896.3 L342.0 897.0 L343.8 893.8 L345.6 893.6 L347.4 894.1 L349.2 892.2 L351.0 890.3 L352.8 889.4 L354.6 888.3 L356.4 886.5 L358.2 887.9 L360.0 884.1 L361.9 883.8 L363.9 883.4 L365.8 881.1 L367.8 881.4 L369.7 877.9 L371.6 878.7 L373.6 877.1 L375.5 875.1 L377.5 874.2 L379.5 871.3 L381.5 870.8 L383.5 869.1 L385.5 866.7 L387.5 865.0 L389.5 864.3 L391.5 862.0 L393.5 859.7 L395.5 860.2 L397.5 857.4 L399.5 856.7 L401.9 843.2 L404.3 838.9 L406.7 836.0 L409.1 841.1 L411.5 847.4 L413.5 845.1 L415.5 843.1 L417.4 842.1 L419.4 842.0 L421.4 838.3 L423.4 837.2 L425.8 832.7 L428.2 825.9 L430.1 823.7 L432.1 823.3 L434.1 822.3 L436.0 820.1 L437.9 819.9 L439.9 818.6 L441.9 819.1 L443.8 816.5 L445.7 816.0 L447.6 815.3 L449.6 813.5 L451.5 810.0 L453.4 809.1 L455.5 804.6 L457.6 801.3 L459.7 798.0 L461.8 795.4 L463.7 793.1 L465.6 788.1 L467.5 784.3 L469.3 783.0 L471.2 778.8 L473.1 775.9 L475.0 775.8 L478.5 758.6 L481.0 744.2 L484.0 754.5 L487.0 764.4 L488.9 762.2 L490.8 757.5 L492.6 756.1 L494.5 757.0 L496.4 753.9 L498.2 751.3 L500.1 750.8 L502.0 749.1 L503.9 746.0 L505.8 744.0 L507.6 740.8 L509.5 739.9 L511.4 737.2 L513.2 737.1 L515.1 735.2 L517.0 731.5 L519.2 727.0 L521.5 718.6 L523.7 712.2 L525.9 708.0 L527.9 707.0 L529.9 708.5 L531.9 707.2 L533.9 707.2 L535.9 704.7 L537.9 707.2 L539.9 703.2 L541.9 704.4 L543.9 704.6 L545.9 703.6 L547.9 702.6 L549.9 699.8 L551.9 692.3 L553.9 684.2 L555.9 673.0 L557.9 670.9 L559.9 665.3 L561.9 657.7 L563.9 660.2 L565.9 659.8 L567.9 660.0 L569.9 662.9 L571.9 661.1 L573.9 665.3 L576.1 665.3 L578.3 661.6 L580.6 663.6 L582.8 659.2 L584.7 658.8 L586.5 652.5 L588.4 651.8 L590.3 645.7 L592.2 646.2 L594.2 640.7 L596.1 639.3 L598.1 640.9 L600.0 638.5 L601.9 636.4 L603.8 632.4 L605.6 631.4 L607.5 630.6 L609.4 627.4 L611.2 630.0 L613.1 627.3 L615.0 626.4 L617.0 616.3 L619.0 605.7 L621.0 595.4 L623.6 585.8 L626.2 570.1 L628.1 581.2 L630.0 589.8 L632.1 593.0 L634.2 594.0 L636.3 597.0 L638.4 602.1 L640.5 602.8 L642.5 603.6 L644.5 600.4 L646.5 599.5 L648.5 597.4 L650.5 597.8 L652.5 595.5 L654.5 592.7 L656.5 590.7 L658.5 590.3 L660.5 590.0 L662.5 585.6 L664.5 582.4 L666.4 580.5 L668.2 577.5 L670.1 576.5 L672.0 574.9 L674.0 572.1 L676.0 568.5 L678.0 567.4 L680.0 565.9 L682.0 564.5 L684.0 562.5 L686.0 566.0 L688.0 564.3 L690.0 565.3 L692.0 566.1 L694.0 566.2 L696.0 567.5 L698.0 563.4 L700.0 562.8 L702.0 562.3 L704.0 556.3 L706.0 556.6 L708.0 553.4 L710.0 549.3 L712.0 546.7 L714.0 547.8 L716.0 542.1 L718.0 542.6 L720.0 537.0 L722.0 534.7 L724.0 529.3 L726.0 528.2 L729.0 506.5 L731.0 468.5 L733.0 420.4 L735.0 372.6 L736.5 350.7 L738.0 369.8 L739.5 421.3 L741.0 462.0 L742.5 488.2 L744.0 516.8 L745.9 513.5 L747.7 513.0 L749.5 517.0 L751.4 511.6 L753.5 514.1 L755.6 511.1 L757.7 508.6 L759.8 506.8 L761.9 504.3 L764.0 499.5 L766.1 497.5 L768.2 493.4 L770.5 462.0 L772.5 416.6 L774.0 398.7 L775.5 413.3 L777.0 450.5 L779.5 470.6 L783.0 485.6 L785.1 486.5 L787.1 489.1 L789.2 488.7 L791.3 489.8 L793.2 489.8 L795.0 485.7 L796.9 487.9 L798.7 484.4 L800.6 485.7 L802.4 483.9 L804.3 488.0 L806.1 482.5 L808.0 486.9 L810.1 484.5 L812.2 479.2 L814.3 478.9 L816.4 472.0 L818.5 470.0 L820.3 467.8 L822.1 466.6 L823.9 464.8 L825.7 467.9 L827.5 462.3 L829.3 463.6 L831.1 460.3 L832.9 460.1 L834.8 462.2 L836.6 461.4 L838.5 466.4 L840.3 463.6 L842.1 465.3 L844.0 465.6 L845.8 466.5 L847.9 461.5 L850.0 456.1 L851.9 453.3 L853.8 455.5 L855.6 449.5 L857.5 448.9 L859.4 448.8 L861.2 445.5 L863.1 445.5 L865.0 442.7 L866.9 440.4 L868.8 437.6 L870.6 439.7 L872.5 438.5 L874.4 440.2 L876.2 437.7 L878.1 438.1 L880.0 438.2 L881.9 435.1 L883.8 436.1 L885.6 435.3 L887.5 429.9 L889.4 433.2 L891.2 431.8 L893.1 430.6 L895.0 426.5 L897.0 424.6 L899.0 422.6 L901.0 422.6 L903.0 424.1 L904.9 419.9 L906.9 416.5 L908.9 416.9 L910.9 414.3 L912.9 416.1 L914.9 418.2 L916.9 420.4 L918.9 416.7 L920.9 419.7 L922.9 419.5 L924.9 425.3 L926.8 423.0 L928.6 419.3 L930.5 419.9 L932.4 415.5 L934.3 415.2 L936.1 411.6 L938.0 409.0 L939.9 410.8 L941.8 408.9 L943.8 406.3 L945.7 406.9 L947.6 404.5 L949.5 404.3 L951.5 398.9 L953.4 398.2 L955.2 401.1 L957.0 407.0 L958.8 410.7 L960.6 410.4 L962.4 415.4 L964.5 409.2 L966.6 408.8 L968.6 405.4 L970.7 397.4 L972.8 398.9 L974.8 395.7 L976.8 391.2 L978.8 391.3 L980.8 388.9 L982.8 391.1 L984.8 391.0 L986.7 386.8 L988.6 387.1 L990.5 390.0 L992.4 391.6 L994.3 391.1 L996.2 389.7 L998.1 387.8 L1000.0 391.1 L1001.9 390.5 L1003.8 393.0 L1005.6 392.0 L1007.5 393.3 L1009.4 395.1 L1011.2 393.4 L1013.1 395.5 L1015.0 392.0 L1016.8 389.2 L1018.6 393.3 L1020.4 387.0 L1022.2 391.6 L1024.0 387.1 L1026.0 383.0 L1028.0 382.5 L1030.0 383.5 L1032.0 379.7 L1034.0 379.4 L1036.0 374.5 L1037.9 379.8 L1039.8 377.9 L1041.7 381.6 L1043.7 378.2 L1045.6 382.3 L1047.5 381.9 L1049.4 382.4 L1051.5 380.3 L1053.6 383.8 L1055.8 385.9 L1057.9 381.7 L1060.0 384.1 L1061.8 379.3 L1063.6 383.1 L1065.5 380.8 L1067.3 376.9 L1069.1 373.5 L1070.9 368.8 L1072.8 367.0 L1074.6 368.4 L1076.4 366.8 L1078.5 369.5 L1080.6 370.2 L1082.7 369.1 L1084.8 369.4 L1086.9 372.7 L1088.7 371.0 L1090.5 371.8 L1092.3 373.5 L1094.1 370.3 L1095.9 373.2 L1097.7 371.1 L1099.5 366.5 L1101.3 370.4 L1103.1 369.4 L1104.9 368.8 L1107.0 363.1 L1109.1 366.8 L1111.2 362.6 L1113.3 361.0 L1115.4 356.9 L1117.3 355.2 L1119.2 354.2 L1121.1 354.6 L1123.1 354.3 L1125.0 352.5 L1126.9 351.1 L1128.8 354.4 L1130.6 354.0 L1132.4 354.8 L1134.2 350.3 L1136.0 353.2 L1137.8 352.1 L1139.6 348.6 L1141.4 353.3 L1143.2 349.7 L1145.0 348.3 L1146.8 348.0 L1149.8 355.7 L1152.8 424.4 L1155.8 349.3 L1157.8 348.4 L1159.8 345.2 L1161.7 345.2 L1163.7 339.6 L1165.7 339.9 L1167.6 339.3 L1169.5 337.9 L1171.4 336.3 L1173.3 332.5 L1175.2 333.3 L1177.1 338.0 L1179.0 337.3 L1180.8 340.9 L1182.7 344.6 L1184.6 343.4 L1186.5 337.2 L1188.4 335.4 L1190.2 324.8 L1192.1 319.3 L1194.0 312.7 L1195.9 316.7 L1197.8 313.8 L1199.7 316.1 L1201.6 311.3 L1203.5 312.0 L1205.5 316.3 L1207.6 315.9 L1209.6 320.0 L1211.6 320.8 L1213.6 319.8 L1215.7 321.8 L1217.7 325.7 L1219.7 322.8 L1221.6 316.9 L1223.5 314.0 L1225.5 308.7 L1227.9 298.9 L1230.2 287.6 L1232.6 276.5 L1234.4 290.5 L1236.3 304.8 L1238.1 316.5 L1240.0 316.4 L1241.9 313.0 L1243.8 314.1 L1245.7 315.3 L1247.6 316.1 L1249.4 310.9 L1251.2 308.5 L1253.0 307.8 L1254.8 310.0 L1256.6 311.5 L1258.4 305.8 L1260.2 309.1 L1262.0 310.0 L1263.9 313.3 L1265.7 315.3 L1267.5 312.0 L1269.4 318.3 L1271.2 315.8 L1273.2 312.6 L1275.2 311.2 L1277.2 308.7 L1279.3 302.8 L1281.3 301.0 L1283.3 297.2 L1285.3 293.8 L1287.2 294.1 L1289.1 294.3 L1291.0 296.2 L1292.9 297.5 L1294.8 298.8 L1296.8 303.7 L1298.7 306.3 L1300.6 308.7 L1302.6 310.7 L1304.4 310.9 L1306.2 306.3 L1308.0 304.4 L1309.8 302.1 L1311.6 304.0 L1313.4 298.7 L1315.2 297.5 L1317.0 298.8 L1318.9 300.8 L1320.7 301.9 L1322.5 302.0 L1324.4 302.6 L1326.2 300.5 L1328.3 309.0 L1330.5 311.6 L1333.3 360.1 L1336.0 309.3 L1338.0 307.2 L1340.0 300.9 L1341.8 303.0 L1343.6 303.4 L1345.4 298.4 L1347.2 298.0 L1349.4 299.6 L1351.5 307.2 L1353.7 306.9 L1355.8 310.0 L1358.0 315.6 L1360.1 311.3 L1362.2 312.7 L1364.3 307.3 L1366.4 306.4 L1368.5 302.4 L1370.6 302.2 L1372.7 305.3 L1374.8 306.8 L1376.8 315.8 L1378.9 314.9 L1381.0 321.5 L1383.1 326.0 L1384.9 324.1 L1386.7 322.6 L1388.5 322.8 L1390.3 325.7 L1392.1 318.7 L1393.9 323.8 L1396.0 324.8 L1398.0 326.8 L1400.1 330.7 L1402.1 333.5 L1404.2 337.6 L1406.2 341.3 L1408.3 341.2 L1410.1 338.9 L1411.9 337.6 L1413.7 339.9 L1415.5 335.8 L1417.3 331.9 L1419.1 333.9 L1420.9 329.6 L1422.7 333.6 L1424.5 338.1 L1426.3 340.4 L1428.1 342.4 L1429.9 346.8 L1431.7 347.9 L1433.5 352.7 L1435.3 354.2 L1437.1 353.3 L1438.9 359.1 L1440.7 357.1 L1442.5 361.5 L1444.3 360.2 L1446.1 359.7 L1447.9 358.9 L1449.7 363.8 L1451.5 361.4 L1453.3 360.0 L1455.1 365.7 L1456.9 361.4 L1459.1 366.2 L1461.3 370.6 L1463.6 378.9 L1465.8 382.9 L1467.6 385.2 L1469.4 390.8 L1471.2 390.8 L1473.0 392.0 L1474.8 399.6 L1476.6 397.0 L1478.4 399.5 L1481.1 397.0 L1483.8 398.0 L1486.1 399.8 L1488.5 404.7 L1490.8 410.0 L1492.6 412.6 L1494.4 417.4 L1496.2 419.3 L1498.0 419.8 L1499.8 421.8 L1501.6 428.1 L1503.4 429.2 L1505.2 429.5 L1507.0 428.5 L1508.8 433.7 L1510.6 431.8 L1512.4 434.8 L1514.5 437.0 L1516.6 440.4 L1518.7 440.4 L1520.7 449.1 L1522.8 452.3 L1524.9 451.5 L1526.7 451.9 L1528.5 455.6 L1530.3 455.9 L1532.1 453.6 L1533.9 458.5 L1535.7 456.3 L1537.5 461.8 L1539.3 464.2 L1541.1 466.3 L1542.9 471.0 L1545.3 471.0 L1547.7 474.0 L1550.1 475.2 L1551.9 485.4 L1553.7 501.6 L1555.5 517.1 L1557.3 507.4 L1559.1 500.6 L1560.9 489.2 L1563.0 491.7 L1565.1 496.0 L1567.2 496.5 L1569.3 498.5 L1571.4 501.7 L1573.5 504.8 L1575.7 508.0 L1577.8 510.6 L1580.0 512.9 L1582.1 515.5 L1584.3 520.6 L1586.5 522.4 L1588.6 524.3 L1590.8 526.3 L1592.9 526.7 L1595.1 526.0 L1597.8 526.8 L1600.4 524.0" stroke="#0b0b76" stroke-width="8.2" fill="none" stroke-linejoin="round"/>
</g></g>
<g id="frame" stroke="#1e1e1e" fill="none">
<g stroke-width="3.2">
<line x1="223.3" y1="39.5" x2="223.3" y2="1109"/>
<line x1="210" y1="1107.6" x2="1614.6" y2="1107.6"/>
<line x1="214.5" y1="41" x2="1614.6" y2="41"/>
<line x1="1613" y1="39.5" x2="1613" y2="1109"/>
</g>
<g stroke-width="4">
<line x1="210" y1="802.9" x2="223" y2="802.9"/><line x1="210" y1="498.3" x2="223" y2="498.3"/><line x1="210" y1="193.7" x2="223" y2="193.7"/><line x1="1593" y1="1107.5" x2="1613" y2="1107.5"/><line x1="1593" y1="802.9" x2="1613" y2="802.9"/><line x1="1593" y1="498.3" x2="1613" y2="498.3"/><line x1="1593" y1="193.7" x2="1613" y2="193.7"/><line x1="212.5" y1="955.2" x2="223" y2="955.2"/><line x1="1601" y1="955.2" x2="1613" y2="955.2"/><line x1="212.5" y1="650.6" x2="223" y2="650.6"/><line x1="1601" y1="650.6" x2="1613" y2="650.6"/><line x1="212.5" y1="346.0" x2="223" y2="346.0"/><line x1="1601" y1="346.0" x2="1613" y2="346.0"/><line x1="528.0" y1="1107.5" x2="528.0" y2="1129"/><line x1="867.2" y1="1107.5" x2="867.2" y2="1129"/><line x1="1206.3" y1="1107.5" x2="1206.3" y2="1129"/><line x1="1544.5" y1="1107.5" x2="1544.5" y2="1129"/><line x1="359.0" y1="1107.5" x2="359.0" y2="1119"/><line x1="697.8" y1="1107.5" x2="697.8" y2="1119"/><line x1="1036.9" y1="1107.5" x2="1036.9" y2="1119"/><line x1="1375.8" y1="1107.5" x2="1375.8" y2="1119"/><line x1="478.4" y1="41" x2="478.4" y2="60.5"/><line x1="762.0" y1="41" x2="762.0" y2="60.5"/><line x1="1045.5" y1="41" x2="1045.5" y2="60.5"/><line x1="1329.5" y1="41" x2="1329.5" y2="60.5"/><line x1="337.2" y1="41" x2="337.2" y2="51"/><line x1="620.3" y1="41" x2="620.3" y2="51"/><line x1="903.5" y1="41" x2="903.5" y2="51"/><line x1="1187.5" y1="41" x2="1187.5" y2="51"/><line x1="1470.5" y1="41" x2="1470.5" y2="51"/>
</g>
</g>
<g id="legend">
<line x1="376" y1="67.6" x2="1521.5" y2="67.6" stroke="#111" stroke-width="2.8"/>
<line x1="380.5" y1="73.5" x2="380.5" y2="206.5" stroke="#a8aca8" stroke-width="4"/>
<line x1="378.5" y1="204.9" x2="1514" y2="204.9" stroke="#7c7c7c" stroke-width="3.6"/>
<line x1="1512.2" y1="72.8" x2="1512.2" y2="206.7" stroke="#7a7a7a" stroke-width="3.8"/>
<line x1="376.4" y1="108.6" x2="485" y2="108.6" stroke="#000" stroke-width="8.5"/>
<line x1="754.5" y1="108.8" x2="862.5" y2="108.8" stroke="#b01212" stroke-width="8"/>
<line x1="376.5" y1="178" x2="485.5" y2="178" stroke="#2d632b" stroke-width="5"/>
<line x1="745.5" y1="178.1" x2="855" y2="178.1" stroke="#0a0838" stroke-width="5"/>
<g font-size="54.3" font-weight="bold" transform="translate(0,124) scale(1,1.05)">
<text x="507" y="0">VHB4905</text>
<text x="875" y="0">VHB 4905_modified area</text>
</g>
<g font-size="54.3" font-weight="bold" transform="translate(0,193) scale(1,1.05)">
<text x="497" y="0">PU</text>
<text x="866" y="0">PU_modified area</text>
</g>
</g>
<g id="ylabels" font-size="73.5">
<text class="dv thin2" transform="translate(189,0) scale(1.1,1) translate(-189,0)" x="165.3" y="218.2">3</text>
<text class="dv thin2" transform="translate(177,0) scale(1.06,1) translate(-177,0)" x="154.8" y="514.7">2</text>
<text class="dv thin2" x="166.3" y="827.7">1</text>
<text class="dv thin2" x="170.5" y="1130.7">0</text>
</g>
<g id="xlabels" class="thin3" font-size="64.5" text-anchor="middle" transform="translate(0,1191) scale(1,1.04)">
<text x="530" y="0">1000</text>
<text x="866.6" y="0">2000</text>
<text x="1205" y="0">3000</text>
<text x="1543" y="0">4000</text>
</g>
<rect x="462.5" y="1185.6" width="12.1" height="6" fill="#fff"/>
<rect x="479.9" y="1185.6" width="11.6" height="6" fill="#fff"/>
<text class="thin" transform="translate(80.4,1110.85) rotate(-90) scale(0.978,1)" font-size="85.5">Raman intensity (arb.units)</text>
<text class="thin" transform="translate(531,1298.8) scale(0.9575,1)" font-size="86.5">wavenumber</text>
<text class="thin" transform="translate(1026,1298.8) scale(0.965,1)" font-size="86.5">(cm</text>
<text x="1161.5" y="1257.5" font-size="50">-1</text>
<text class="thin" x="1209" y="1299" font-size="86.5">)</text>
</svg>
</body></html>
